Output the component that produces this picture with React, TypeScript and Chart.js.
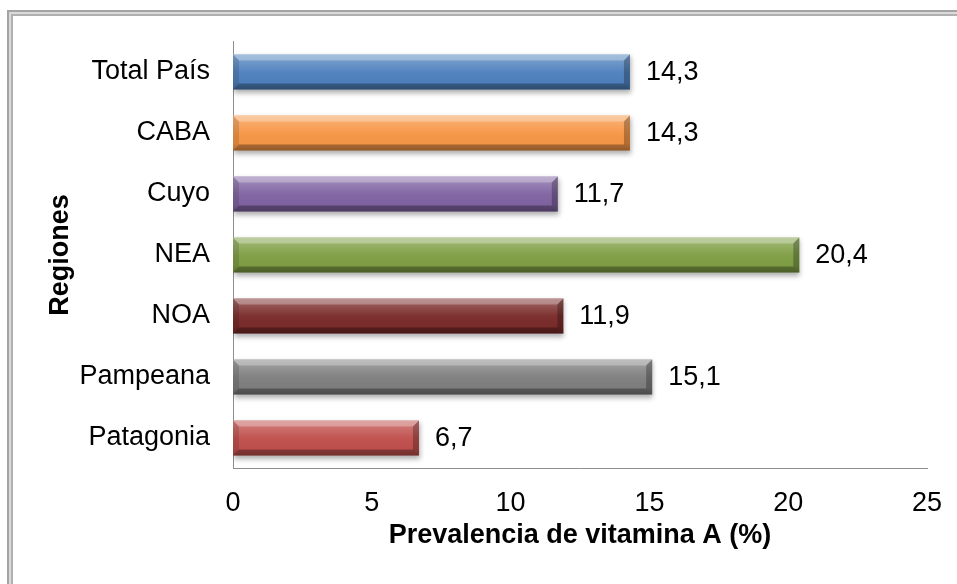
import React, { useEffect, useRef } from "react";
import { Chart, registerables } from "chart.js";

Chart.register(...registerables);

// Regions and vitamin A deficiency prevalence (%)
const regions = ["Total País", "CABA", "Cuyo", "NEA", "NOA", "Pampeana", "Patagonia"];
const prevalence = [14.3, 14.3, 11.7, 20.4, 11.9, 15.1, 6.7];
const barColors = ["#4F81BD", "#F79646", "#8064A2", "#7F9F45", "#7A2C2A", "#7F7F7F", "#C0504D"];
const xTicks = [0, 5, 10, 15, 20, 25];

const FONT = "'Liberation Sans', Arial, sans-serif";
const FONT_SIZE = 27;

const formatValue = (v: number) => v.toFixed(1).replace(".", ",");

// Soft drop shadow under the bars, a bevelled face on each bar and the value labels
const bevelPlugin = {
  id: "bevelBars",
  beforeDatasetsDraw(chart: any) {
    const ctx = chart.ctx;
    ctx.save();
    ctx.shadowColor = "rgba(0,0,0,0.32)";
    ctx.shadowBlur = 5;
    ctx.shadowOffsetX = 1;
    ctx.shadowOffsetY = 3;
  },
  afterDatasetsDraw(chart: any) {
    const ctx = chart.ctx;
    ctx.restore();
    const meta = chart.getDatasetMeta(0);
    const values = chart.data.datasets[0].data as number[];
    meta.data.forEach((el: any, i: number) => {
      const { x, y, base, height } = el.getProps(["x", "y", "base", "height"], true);
      const l = Math.min(x, base);
      const r = Math.max(x, base);
      const t = y - height / 2;
      const b = y + height / 2;
      const bv = 6;

      ctx.save();
      const g = ctx.createLinearGradient(0, t, 0, b);
      g.addColorStop(0, "rgba(255,255,255,0.3)");
      g.addColorStop(0.25, "rgba(255,255,255,0.16)");
      g.addColorStop(0.5, "rgba(255,255,255,0.03)");
      g.addColorStop(0.8, "rgba(0,0,0,0.02)");
      g.addColorStop(1, "rgba(0,0,0,0.18)");
      ctx.fillStyle = g;
      ctx.fillRect(l, t, r - l, b - t);

      const poly = (pts: number[][], fill: string) => {
        ctx.beginPath();
        ctx.moveTo(pts[0][0], pts[0][1]);
        for (let k = 1; k < pts.length; k++) ctx.lineTo(pts[k][0], pts[k][1]);
        ctx.closePath();
        ctx.fillStyle = fill;
        ctx.fill();
      };
      // top edge highlight
      poly([[l, t], [r, t], [r - bv, t + bv], [l + bv, t + bv]], "rgba(255,255,255,0.28)");
      // bottom edge shade
      poly([[l, b], [r, b], [r - bv, b - bv], [l + bv, b - bv]], "rgba(0,0,0,0.28)");
      // left end
      poly([[l, t], [l + bv, t + bv], [l + bv, b - bv], [l, b]], "rgba(0,0,0,0.12)");
      // right end
      poly([[r, t], [r - bv, t + bv], [r - bv, b - bv], [r, b]], "rgba(0,0,0,0.26)");
      ctx.restore();

      ctx.save();
      ctx.font = `${FONT_SIZE}px ${FONT}`;
      ctx.fillStyle = "#000";
      ctx.textAlign = "left";
      ctx.textBaseline = "middle";
      ctx.fillText(formatValue(values[i]), r + 16, y + 1);
      ctx.restore();
    });
  },
};

export default function App() {
  const canvasRef = useRef<HTMLCanvasElement | null>(null);

  useEffect(() => {
    const canvas = canvasRef.current;
    if (!canvas) return;
    const chart = new Chart(canvas, {
      type: "bar",
      data: {
        labels: regions,
        datasets: [
          {
            data: prevalence,
            backgroundColor: barColors,
            borderWidth: 0,
            categoryPercentage: 1,
            barPercentage: 0.574,
          },
        ],
      },
      options: {
        indexAxis: "y",
        responsive: false,
        animation: false,
        layout: { padding: { top: 41.5, right: 30, left: 0, bottom: 0 } },
        plugins: {
          legend: { display: false },
          tooltip: { enabled: false },
        },
        scales: {
          x: {
            type: "linear",
            min: xTicks[0],
            max: xTicks[xTicks.length - 1],
            afterBuildTicks: (scale: any) => {
              scale.ticks = xTicks.map((v) => ({ value: v }));
            },
            afterFit: (scale: any) => {
              scale.height = 115.5;
              // the plot edges are set by the layout padding alone
              scale.paddingLeft = 0;
              scale.paddingRight = 0;
            },
            grid: { display: false, drawTicks: false },
            border: { display: true, color: "#8E8E8E", width: 1 },
            ticks: {
              color: "#000",
              padding: 19,
              font: { family: FONT, size: FONT_SIZE },
            },
            title: {
              display: true,
              text: "Prevalencia de vitamina A (%)",
              color: "#000",
              font: { family: FONT, size: FONT_SIZE, weight: "bold" },
              padding: { top: 0, bottom: 32 },
            },
          },
          y: {
            type: "category",
            afterFit: (scale: any) => {
              scale.width = 233;
            },
            grid: { display: false, drawTicks: false },
            border: { display: true, color: "#8E8E8E", width: 1 },
            ticks: {
              color: "#000",
              padding: 23,
              font: { family: FONT, size: FONT_SIZE },
            },
            title: {
              display: true,
              text: "Regiones",
              color: "#000",
              font: { family: FONT, size: FONT_SIZE, weight: "bold" },
              padding: { top: 44, bottom: 0 },
            },
          },
        },
      },
      plugins: [bevelPlugin],
    } as any);
    return () => chart.destroy();
  }, []);

  return (
    <div
      style={{
        position: "fixed",
        left: 0,
        top: 0,
        width: 957,
        height: 584,
        background: "#fff",
        overflow: "hidden",
      }}
    >
      <div
        style={{
          position: "absolute",
          left: 7,
          top: 10,
          width: 1000,
          height: 1000,
          borderTop: "2px solid #A4A4A4",
          borderLeft: "2px solid #A4A4A4",
          boxShadow: "inset 2px 2px 0 #DADADA, inset 4px 4px 0 #B0B0B0",
        }}
      />
      <canvas
        ref={canvasRef}
        width={957}
        height={584}
        style={{ position: "absolute", left: 0, top: 0, width: 957, height: 584 }}
      />
    </div>
  );
}
